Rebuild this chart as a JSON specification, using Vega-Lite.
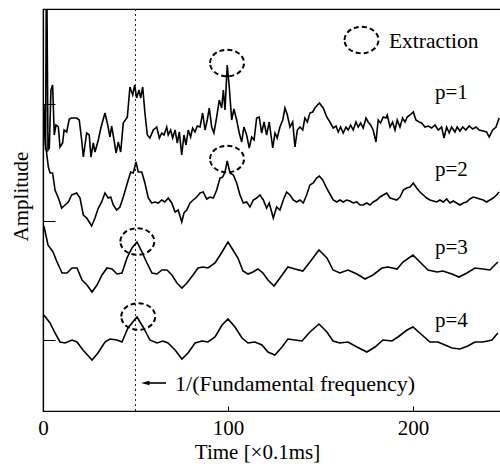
{
  "$schema": "https://vega.github.io/schema/vega-lite/v6.json",
  "width": 458,
  "height": 402,
  "autosize": {"type": "none"},
  "padding": {"left": 43, "top": 9, "right": 0, "bottom": 53},
  "background": "white",
  "config": {"view": {"stroke": "black", "strokeWidth": 1.2}},
  "datasets": {
    "curves": [
      {"p":1,"t":0.5,"a":306},{"p":1,"t":1.4,"a":261},{"p":1,"t":1.9,"a":470},{"p":1,"t":2.7,"a":261},{"p":1,"t":3.4,"a":263},{"p":1,"t":4.3,"a":321},{"p":1,"t":5.2,"a":326},{"p":1,"t":6.1,"a":276},{"p":1,"t":7.0,"a":286},{"p":1,"t":8.3,"a":284},{"p":1,"t":9.2,"a":264},{"p":1,"t":10.6,"a":268},{"p":1,"t":11.4,"a":281},{"p":1,"t":12.8,"a":279},{"p":1,"t":14.2,"a":292},{"p":1,"t":15.5,"a":293},{"p":1,"t":18.2,"a":293},{"p":1,"t":19.6,"a":291},{"p":1,"t":20.9,"a":271},{"p":1,"t":21.8,"a":254},{"p":1,"t":23.6,"a":278},{"p":1,"t":25.0,"a":276},{"p":1,"t":25.9,"a":254},{"p":1,"t":27.2,"a":268},{"p":1,"t":28.1,"a":259},{"p":1,"t":29.9,"a":271},{"p":1,"t":31.4,"a":284},{"p":1,"t":33.5,"a":298},{"p":1,"t":35.0,"a":286},{"p":1,"t":36.2,"a":274},{"p":1,"t":37.1,"a":285},{"p":1,"t":38.4,"a":271},{"p":1,"t":39.5,"a":258},{"p":1,"t":40.7,"a":269},{"p":1,"t":42.0,"a":259},{"p":1,"t":43.4,"a":288},{"p":1,"t":45.6,"a":294},{"p":1,"t":47.0,"a":324},{"p":1,"t":48.5,"a":316},{"p":1,"t":49.6,"a":326},{"p":1,"t":50.6,"a":313},{"p":1,"t":51.9,"a":321},{"p":1,"t":52.8,"a":313},{"p":1,"t":53.9,"a":324},{"p":1,"t":55.1,"a":298},{"p":1,"t":56.4,"a":276},{"p":1,"t":57.8,"a":273},{"p":1,"t":59.6,"a":281},{"p":1,"t":61.5,"a":284},{"p":1,"t":62.9,"a":273},{"p":1,"t":64.2,"a":278},{"p":1,"t":65.4,"a":276},{"p":1,"t":66.9,"a":284},{"p":1,"t":67.7,"a":276},{"p":1,"t":69.0,"a":281},{"p":1,"t":70.1,"a":273},{"p":1,"t":71.4,"a":281},{"p":1,"t":72.6,"a":268},{"p":1,"t":73.7,"a":279},{"p":1,"t":75.0,"a":256},{"p":1,"t":76.2,"a":276},{"p":1,"t":77.3,"a":266},{"p":1,"t":78.5,"a":281},{"p":1,"t":79.8,"a":274},{"p":1,"t":80.9,"a":283},{"p":1,"t":82.2,"a":279},{"p":1,"t":83.4,"a":285},{"p":1,"t":84.9,"a":284},{"p":1,"t":86.3,"a":298},{"p":1,"t":87.6,"a":281},{"p":1,"t":88.8,"a":291},{"p":1,"t":89.9,"a":303},{"p":1,"t":91.2,"a":284},{"p":1,"t":92.4,"a":278},{"p":1,"t":93.9,"a":294},{"p":1,"t":95.3,"a":311},{"p":1,"t":96.6,"a":303},{"p":1,"t":97.5,"a":321},{"p":1,"t":98.4,"a":301},{"p":1,"t":99.6,"a":346},{"p":1,"t":100.7,"a":324},{"p":1,"t":102.0,"a":291},{"p":1,"t":103.2,"a":302},{"p":1,"t":104.7,"a":291},{"p":1,"t":106.1,"a":278},{"p":1,"t":107.4,"a":269},{"p":1,"t":108.6,"a":284},{"p":1,"t":110.1,"a":276},{"p":1,"t":111.5,"a":263},{"p":1,"t":112.8,"a":274},{"p":1,"t":114.1,"a":271},{"p":1,"t":115.5,"a":293},{"p":1,"t":116.9,"a":294},{"p":1,"t":118.2,"a":278},{"p":1,"t":119.5,"a":289},{"p":1,"t":120.9,"a":276},{"p":1,"t":122.3,"a":289},{"p":1,"t":124.2,"a":263},{"p":1,"t":125.4,"a":278},{"p":1,"t":126.6,"a":273},{"p":1,"t":128.1,"a":284},{"p":1,"t":129.6,"a":291},{"p":1,"t":130.8,"a":303},{"p":1,"t":132.1,"a":296},{"p":1,"t":133.5,"a":284},{"p":1,"t":135.0,"a":289},{"p":1,"t":136.2,"a":264},{"p":1,"t":137.5,"a":281},{"p":1,"t":138.9,"a":284},{"p":1,"t":140.4,"a":281},{"p":1,"t":141.6,"a":293},{"p":1,"t":142.9,"a":289},{"p":1,"t":144.3,"a":298},{"p":1,"t":145.8,"a":299},{"p":1,"t":147.0,"a":303},{"p":1,"t":149.4,"a":308},{"p":1,"t":151.5,"a":303},{"p":1,"t":153.4,"a":294},{"p":1,"t":155.1,"a":289},{"p":1,"t":156.9,"a":283},{"p":1,"t":158.4,"a":285},{"p":1,"t":159.6,"a":279},{"p":1,"t":160.9,"a":284},{"p":1,"t":162.3,"a":278},{"p":1,"t":163.8,"a":284},{"p":1,"t":165.0,"a":281},{"p":1,"t":166.3,"a":286},{"p":1,"t":167.7,"a":281},{"p":1,"t":169.2,"a":289},{"p":1,"t":170.4,"a":284},{"p":1,"t":171.7,"a":288},{"p":1,"t":173.1,"a":283},{"p":1,"t":174.6,"a":293},{"p":1,"t":175.8,"a":289},{"p":1,"t":177.1,"a":286},{"p":1,"t":178.5,"a":281},{"p":1,"t":180.0,"a":269},{"p":1,"t":181.2,"a":291},{"p":1,"t":182.5,"a":288},{"p":1,"t":183.9,"a":294},{"p":1,"t":185.4,"a":293},{"p":1,"t":186.1,"a":296},{"p":1,"t":187.6,"a":284},{"p":1,"t":189.0,"a":289},{"p":1,"t":190.3,"a":281},{"p":1,"t":191.5,"a":291},{"p":1,"t":193.0,"a":284},{"p":1,"t":194.4,"a":293},{"p":1,"t":195.7,"a":289},{"p":1,"t":196.9,"a":294},{"p":1,"t":198.4,"a":296},{"p":1,"t":200.2,"a":299},{"p":1,"t":201.6,"a":291},{"p":1,"t":203.4,"a":289},{"p":1,"t":204.7,"a":288},{"p":1,"t":206.5,"a":284},{"p":1,"t":208.3,"a":285},{"p":1,"t":210.1,"a":283},{"p":1,"t":211.9,"a":286},{"p":1,"t":213.7,"a":281},{"p":1,"t":215.5,"a":284},{"p":1,"t":216.8,"a":273},{"p":1,"t":218.2,"a":284},{"p":1,"t":219.6,"a":278},{"p":1,"t":220.9,"a":284},{"p":1,"t":222.7,"a":279},{"p":1,"t":223.9,"a":284},{"p":1,"t":225.4,"a":280},{"p":1,"t":226.9,"a":284},{"p":1,"t":228.6,"a":281},{"p":1,"t":230.4,"a":285},{"p":1,"t":232.3,"a":282},{"p":1,"t":234.1,"a":284},{"p":1,"t":235.8,"a":281},{"p":1,"t":238.0,"a":280},{"p":1,"t":239.8,"a":279},{"p":1,"t":241.2,"a":274},{"p":1,"t":243.1,"a":281},{"p":1,"t":244.9,"a":284},{"p":1,"t":246.6,"a":293},
      {"p":2,"t":0.5,"a":291},{"p":2,"t":1.4,"a":266},{"p":2,"t":2.9,"a":244},{"p":2,"t":3.8,"a":238},{"p":2,"t":5.2,"a":238},{"p":2,"t":6.5,"a":221},{"p":2,"t":8.3,"a":213},{"p":2,"t":10.1,"a":203},{"p":2,"t":11.9,"a":206},{"p":2,"t":13.7,"a":209},{"p":2,"t":15.5,"a":216},{"p":2,"t":18.2,"a":218},{"p":2,"t":20.0,"a":213},{"p":2,"t":21.8,"a":196},{"p":2,"t":23.6,"a":193},{"p":2,"t":25.0,"a":189},{"p":2,"t":26.3,"a":185},{"p":2,"t":28.1,"a":193},{"p":2,"t":29.9,"a":203},{"p":2,"t":31.7,"a":209},{"p":2,"t":33.5,"a":218},{"p":2,"t":35.3,"a":213},{"p":2,"t":36.6,"a":214},{"p":2,"t":38.0,"a":206},{"p":2,"t":39.8,"a":201},{"p":2,"t":41.6,"a":204},{"p":2,"t":43.4,"a":214},{"p":2,"t":45.6,"a":228},{"p":2,"t":47.4,"a":239},{"p":2,"t":48.8,"a":238},{"p":2,"t":50.3,"a":249},{"p":2,"t":51.5,"a":239},{"p":2,"t":53.4,"a":239},{"p":2,"t":55.1,"a":228},{"p":2,"t":56.9,"a":213},{"p":2,"t":58.8,"a":208},{"p":2,"t":60.5,"a":209},{"p":2,"t":62.3,"a":208},{"p":2,"t":64.2,"a":211},{"p":2,"t":65.9,"a":209},{"p":2,"t":67.7,"a":213},{"p":2,"t":69.6,"a":208},{"p":2,"t":71.4,"a":199},{"p":2,"t":73.1,"a":201},{"p":2,"t":75.0,"a":189},{"p":2,"t":76.2,"a":198},{"p":2,"t":77.7,"a":201},{"p":2,"t":79.5,"a":208},{"p":2,"t":81.2,"a":211},{"p":2,"t":83.1,"a":214},{"p":2,"t":84.9,"a":218},{"p":2,"t":86.6,"a":219},{"p":2,"t":88.5,"a":212},{"p":2,"t":90.3,"a":214},{"p":2,"t":92.1,"a":213},{"p":2,"t":93.9,"a":221},{"p":2,"t":95.7,"a":233},{"p":2,"t":97.1,"a":234},{"p":2,"t":98.4,"a":239},{"p":2,"t":99.6,"a":250},{"p":2,"t":101.1,"a":238},{"p":2,"t":102.9,"a":236},{"p":2,"t":104.7,"a":228},{"p":2,"t":106.5,"a":216},{"p":2,"t":108.3,"a":208},{"p":2,"t":110.1,"a":209},{"p":2,"t":111.9,"a":204},{"p":2,"t":113.7,"a":211},{"p":2,"t":115.5,"a":213},{"p":2,"t":117.3,"a":216},{"p":2,"t":119.1,"a":211},{"p":2,"t":120.9,"a":203},{"p":2,"t":122.3,"a":208},{"p":2,"t":124.5,"a":193},{"p":2,"t":126.3,"a":204},{"p":2,"t":128.1,"a":201},{"p":2,"t":129.9,"a":211},{"p":2,"t":131.7,"a":219},{"p":2,"t":133.5,"a":216},{"p":2,"t":135.3,"a":211},{"p":2,"t":137.1,"a":209},{"p":2,"t":138.9,"a":211},{"p":2,"t":140.7,"a":208},{"p":2,"t":142.5,"a":216},{"p":2,"t":144.3,"a":226},{"p":2,"t":146.1,"a":228},{"p":2,"t":147.9,"a":233},{"p":2,"t":149.4,"a":235},{"p":2,"t":151.2,"a":231},{"p":2,"t":153.0,"a":224},{"p":2,"t":154.8,"a":218},{"p":2,"t":156.9,"a":211},{"p":2,"t":158.8,"a":209},{"p":2,"t":160.5,"a":211},{"p":2,"t":162.3,"a":209},{"p":2,"t":164.2,"a":211},{"p":2,"t":165.9,"a":210},{"p":2,"t":167.7,"a":208},{"p":2,"t":169.6,"a":209},{"p":2,"t":171.4,"a":206},{"p":2,"t":173.1,"a":206},{"p":2,"t":175.0,"a":208},{"p":2,"t":176.8,"a":206},{"p":2,"t":178.5,"a":209},{"p":2,"t":180.4,"a":211},{"p":2,"t":182.2,"a":214},{"p":2,"t":183.9,"a":216},{"p":2,"t":185.8,"a":218},{"p":2,"t":187.6,"a":213},{"p":2,"t":189.4,"a":212},{"p":2,"t":191.2,"a":211},{"p":2,"t":193.0,"a":214},{"p":2,"t":194.8,"a":221},{"p":2,"t":196.6,"a":223},{"p":2,"t":198.4,"a":224},{"p":2,"t":200.2,"a":228},{"p":2,"t":202.0,"a":223},{"p":2,"t":203.8,"a":219},{"p":2,"t":205.6,"a":216},{"p":2,"t":207.4,"a":213},{"p":2,"t":209.2,"a":211},{"p":2,"t":211.0,"a":210},{"p":2,"t":212.8,"a":209},{"p":2,"t":214.6,"a":211},{"p":2,"t":216.4,"a":209},{"p":2,"t":218.2,"a":212},{"p":2,"t":220.0,"a":208},{"p":2,"t":221.8,"a":210},{"p":2,"t":223.6,"a":208},{"p":2,"t":225.4,"a":206},{"p":2,"t":227.2,"a":208},{"p":2,"t":229.0,"a":209},{"p":2,"t":230.8,"a":212},{"p":2,"t":232.6,"a":214},{"p":2,"t":234.4,"a":213},{"p":2,"t":236.2,"a":212},{"p":2,"t":238.0,"a":211},{"p":2,"t":239.8,"a":209},{"p":2,"t":241.6,"a":211},{"p":2,"t":243.4,"a":213},{"p":2,"t":245.2,"a":216},{"p":2,"t":246.6,"a":219},
      {"p":3,"t":0.5,"a":185},{"p":3,"t":2.7,"a":166},{"p":3,"t":5.4,"a":159},{"p":3,"t":7.6,"a":149},{"p":3,"t":10.3,"a":138},{"p":3,"t":13.0,"a":138},{"p":3,"t":15.7,"a":143},{"p":3,"t":18.4,"a":143},{"p":3,"t":21.1,"a":131},{"p":3,"t":23.8,"a":126},{"p":3,"t":26.5,"a":119},{"p":3,"t":29.2,"a":126},{"p":3,"t":31.9,"a":136},{"p":3,"t":34.6,"a":143},{"p":3,"t":37.3,"a":142},{"p":3,"t":40.0,"a":137},{"p":3,"t":42.7,"a":138},{"p":3,"t":45.4,"a":153},{"p":3,"t":48.1,"a":163},{"p":3,"t":50.8,"a":169},{"p":3,"t":53.5,"a":159},{"p":3,"t":56.2,"a":148},{"p":3,"t":58.9,"a":138},{"p":3,"t":61.6,"a":137},{"p":3,"t":64.3,"a":141},{"p":3,"t":67.0,"a":141},{"p":3,"t":69.7,"a":136},{"p":3,"t":72.4,"a":128},{"p":3,"t":75.1,"a":123},{"p":3,"t":77.8,"a":128},{"p":3,"t":81.1,"a":136},{"p":3,"t":83.8,"a":143},{"p":3,"t":86.5,"a":144},{"p":3,"t":89.2,"a":143},{"p":3,"t":93.0,"a":148},{"p":3,"t":96.8,"a":159},{"p":3,"t":100.0,"a":169},{"p":3,"t":102.7,"a":161},{"p":3,"t":105.4,"a":153},{"p":3,"t":108.1,"a":140},{"p":3,"t":110.8,"a":137},{"p":3,"t":113.5,"a":139},{"p":3,"t":116.2,"a":142},{"p":3,"t":118.9,"a":138},{"p":3,"t":121.6,"a":131},{"p":3,"t":122.7,"a":129},{"p":3,"t":124.9,"a":125},{"p":3,"t":128.1,"a":133},{"p":3,"t":132.4,"a":144},{"p":3,"t":136.2,"a":142},{"p":3,"t":140.5,"a":140},{"p":3,"t":144.3,"a":149},{"p":3,"t":149.2,"a":161},{"p":3,"t":153.5,"a":153},{"p":3,"t":156.8,"a":141},{"p":3,"t":160.5,"a":138},{"p":3,"t":164.9,"a":141},{"p":3,"t":169.7,"a":137},{"p":3,"t":174.1,"a":132},{"p":3,"t":178.4,"a":136},{"p":3,"t":183.2,"a":143},{"p":3,"t":186.5,"a":144},{"p":3,"t":191.4,"a":142},{"p":3,"t":194.6,"a":149},{"p":3,"t":200.0,"a":156},{"p":3,"t":203.8,"a":149},{"p":3,"t":208.1,"a":141},{"p":3,"t":213.0,"a":139},{"p":3,"t":216.2,"a":140},{"p":3,"t":221.1,"a":137},{"p":3,"t":224.9,"a":134},{"p":3,"t":229.2,"a":138},{"p":3,"t":233.5,"a":143},{"p":3,"t":237.8,"a":142},{"p":3,"t":241.6,"a":141},{"p":3,"t":245.9,"a":149},
      {"p":4,"t":0.5,"a":96},{"p":4,"t":3.8,"a":88},{"p":4,"t":6.5,"a":78},{"p":4,"t":9.2,"a":69},{"p":4,"t":11.9,"a":68},{"p":4,"t":15.7,"a":71},{"p":4,"t":18.4,"a":69},{"p":4,"t":21.6,"a":61},{"p":4,"t":26.5,"a":51},{"p":4,"t":29.7,"a":58},{"p":4,"t":33.5,"a":69},{"p":4,"t":36.2,"a":72},{"p":4,"t":40.0,"a":71},{"p":4,"t":42.7,"a":69},{"p":4,"t":45.9,"a":83},{"p":4,"t":50.8,"a":94},{"p":4,"t":54.1,"a":84},{"p":4,"t":57.8,"a":71},{"p":4,"t":61.6,"a":68},{"p":4,"t":64.9,"a":70},{"p":4,"t":67.6,"a":68},{"p":4,"t":71.4,"a":61},{"p":4,"t":75.1,"a":52},{"p":4,"t":78.4,"a":58},{"p":4,"t":82.2,"a":68},{"p":4,"t":85.9,"a":70},{"p":4,"t":89.2,"a":69},{"p":4,"t":93.0,"a":74},{"p":4,"t":96.8,"a":86},{"p":4,"t":100.0,"a":92},{"p":4,"t":103.8,"a":84},{"p":4,"t":107.6,"a":73},{"p":4,"t":110.8,"a":68},{"p":4,"t":114.6,"a":69},{"p":4,"t":118.4,"a":66},{"p":4,"t":121.6,"a":59},{"p":4,"t":125.4,"a":56},{"p":4,"t":129.2,"a":64},{"p":4,"t":132.4,"a":72},{"p":4,"t":136.2,"a":71},{"p":4,"t":140.0,"a":70},{"p":4,"t":144.3,"a":79},{"p":4,"t":149.2,"a":87},{"p":4,"t":153.5,"a":79},{"p":4,"t":156.8,"a":70},{"p":4,"t":160.5,"a":68},{"p":4,"t":164.9,"a":69},{"p":4,"t":169.7,"a":64},{"p":4,"t":175.1,"a":59},{"p":4,"t":179.5,"a":64},{"p":4,"t":183.8,"a":71},{"p":4,"t":188.6,"a":70},{"p":4,"t":191.9,"a":74},{"p":4,"t":196.8,"a":81},{"p":4,"t":200.0,"a":84},{"p":4,"t":204.9,"a":76},{"p":4,"t":209.2,"a":69},{"p":4,"t":213.5,"a":69},{"p":4,"t":217.3,"a":66},{"p":4,"t":221.1,"a":63},{"p":4,"t":225.4,"a":62},{"p":4,"t":229.7,"a":65},{"p":4,"t":233.5,"a":69},{"p":4,"t":237.8,"a":69},{"p":4,"t":242.7,"a":71},{"p":4,"t":245.9,"a":78}
    ],
    "circles": [
      {"t":99.5,"a":348},{"t":99.5,"a":252},{"t":51,"a":169.5},{"t":51.5,"a":94.5},{"t":172.2,"a":371}
    ],
    "labels": [
      {"t":211.9,"a":312,"text":"p=1","fs":21},
      {"t":211.9,"a":235,"text":"p=2","fs":21},
      {"t":211.9,"a":157,"text":"p=3","fs":21},
      {"t":211.9,"a":84,"text":"p=4","fs":21},
      {"t":187,"a":363,"text":"Extraction","fs":21.5},
      {"t":71.4,"a":20,"text":"1/(Fundamental frequency)","fs":22}
    ],
    "marks": [{"vline": 50, "ax": 55.3, "ax2": 66.5, "ay": 28}]
  },
  "layer": [
    {
      "data": {"name": "marks"},
      "mark": {"type": "rule", "color": "#222", "strokeWidth": 1, "strokeDash": [2, 3]},
      "encoding": {"x": {"field": "vline", "type": "quantitative", "scale": {"domain": [0, 247.6], "nice": false, "zero": false}}}
    },
    {
      "data": {"name": "marks"},
      "mark": {"type": "rule", "color": "black", "strokeWidth": 1.6},
      "encoding": {"x": {"field": "ax", "type": "quantitative"}, "x2": {"field": "ax2"}, "y": {"field": "ay", "type": "quantitative"}}
    },
    {
      "data": {"name": "marks"},
      "mark": {"type": "point", "shape": "M-1,0L1,-0.55L1,0.55Z", "size": 70, "filled": true, "color": "black", "opacity": 1},
      "encoding": {"x": {"field": "ax", "type": "quantitative"}, "y": {"field": "ay", "type": "quantitative"}}
    },
    {
      "data": {"name": "curves"},
      "mark": {"type": "line", "color": "black", "strokeWidth": 1.6, "clip": true},
      "encoding": {
        "x": {"field": "t", "type": "quantitative", "scale": {"domain": [0, 247.6], "nice": false, "zero": false},
          "axis": {"title": "Time [×0.1ms]", "values": [0, 100, 200], "tickSize": -5, "tickColor": "black", "domainColor": "black", "domainWidth": 1.2, "grid": false,
            "labelFont": "Liberation Serif", "labelFontSize": 21, "labelColor": "black", "labelBaseline": "alphabetic", "labelPadding": 28, "labelFlush": false,
            "titleFont": "Liberation Serif", "titleFontSize": 21, "titleFontWeight": "normal", "titleColor": "black", "titleBaseline": "alphabetic", "titleX": 214, "titleY": 47, "titleAlign": "center"}},
        "y": {"field": "a", "type": "quantitative", "scale": {"domain": [0, 402], "nice": false, "zero": false},
          "axis": {"title": "Amplitude", "values": [71, 190, 307], "tickSize": -12, "tickColor": "black", "domainColor": "black", "domainWidth": 1.2, "labels": false, "grid": false,
            "titleFont": "Liberation Serif", "titleFontSize": 21, "titleFontWeight": "normal", "titleColor": "#000000", "titleBaseline": "alphabetic", "titleAngle": -90, "titleX": -16, "titleY": 187, "titleAlign": "center"}},
        "detail": {"field": "p"}
      }
    },
    {
      "data": {"name": "circles"},
      "mark": {"type": "point", "shape": "M-1,0A1,0.78,0,1,1,1,0A1,0.78,0,1,1,-1,0Z", "size": 1156, "filled": false, "color": "black", "strokeWidth": 2, "strokeDash": [5, 3], "opacity": 1},
      "encoding": {"x": {"field": "t", "type": "quantitative"}, "y": {"field": "a", "type": "quantitative"}}
    },
    {
      "data": {"name": "labels"},
      "mark": {"type": "text", "font": "Liberation Serif", "align": "left", "baseline": "alphabetic", "color": "black"},
      "encoding": {"x": {"field": "t", "type": "quantitative"}, "y": {"field": "a", "type": "quantitative"}, "text": {"field": "text"}, "size": {"field": "fs", "type": "quantitative", "scale": null}}
    }
  ]
}
